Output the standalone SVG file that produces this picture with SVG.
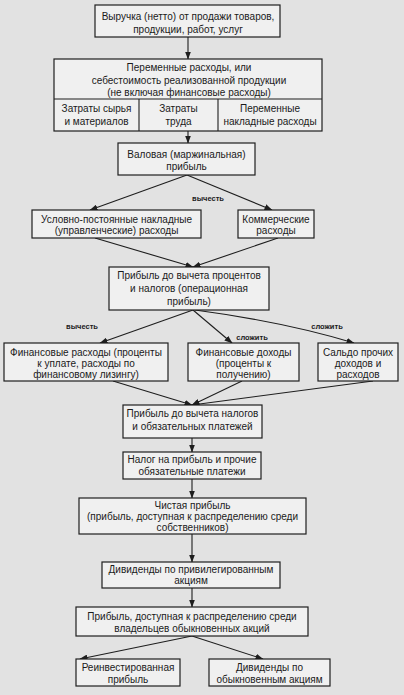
<svg xmlns="http://www.w3.org/2000/svg" width="404" height="695" viewBox="0 0 404 695">
<defs>
<style>
.bg{fill:#e2e2e2}
.box{fill:#f0f0f0;stroke:#1e1e1e;stroke-width:1.2}
.ln{fill:none;stroke:#1e1e1e;stroke-width:1.1}
text{font-family:"Liberation Sans",Arial,sans-serif;font-size:10px;fill:#1a1a1a;text-anchor:middle}
.lbl{font-size:7.5px;font-weight:bold}
</style>
<marker id="ah" markerWidth="8" markerHeight="6" refX="7.5" refY="3" orient="auto" markerUnits="userSpaceOnUse">
<path d="M0,0 L8,3 L0,6 Z" fill="#1e1e1e"/>
</marker>
</defs>
<rect class="bg" x="0" y="0" width="404" height="695"/>

<g id="connectors">
<line class="ln" x1="188" y1="37" x2="188" y2="59" marker-end="url(#ah)"/>
<line class="ln" x1="188" y1="131" x2="188" y2="143" marker-end="url(#ah)"/>
<line class="ln" x1="187" y1="175" x2="90" y2="210" marker-end="url(#ah)"/>
<line class="ln" x1="187" y1="175" x2="272" y2="210" marker-end="url(#ah)"/>
<line class="ln" x1="95" y1="238" x2="193" y2="267" marker-end="url(#ah)"/>
<line class="ln" x1="278" y1="238" x2="193" y2="267" marker-end="url(#ah)"/>
<line class="ln" x1="193" y1="310" x2="100" y2="343" marker-end="url(#ah)"/>
<line class="ln" x1="193" y1="310" x2="232" y2="343" marker-end="url(#ah)"/>
<path class="ln" d="M195,310 Q285,322 354,343" marker-end="url(#ah)"/>
<line class="ln" x1="113" y1="381" x2="192" y2="405" marker-end="url(#ah)"/>
<line class="ln" x1="242" y1="381" x2="192" y2="405" marker-end="url(#ah)"/>
<line class="ln" x1="373" y1="381" x2="192" y2="405" marker-end="url(#ah)"/>
<line class="ln" x1="192" y1="438" x2="192" y2="452" marker-end="url(#ah)"/>
<line class="ln" x1="192" y1="479" x2="192" y2="498" marker-end="url(#ah)"/>
<line class="ln" x1="192" y1="534" x2="192" y2="562" marker-end="url(#ah)"/>
<line class="ln" x1="192" y1="588" x2="192" y2="607" marker-end="url(#ah)"/>
<line class="ln" x1="192" y1="636" x2="80" y2="659" marker-end="url(#ah)"/>
<line class="ln" x1="192" y1="636" x2="263" y2="659" marker-end="url(#ah)"/>
<text class="lbl" x="208" y="201">вычесть</text>
<text class="lbl" x="82" y="329">вычесть</text>
<text class="lbl" x="252" y="340">сложить</text>
<text class="lbl" x="327" y="329">сложить</text>
</g>

<g id="n1">
<rect class="box" x="95" y="5" width="185" height="32"/>
<text x="188" y="20">Выручка (нетто) от продажи товаров,</text>
<text x="188" y="33">продукции, работ, услуг</text>
</g>

<g id="n2">
<rect class="box" x="54" y="59" width="268" height="72"/>
<line class="ln" x1="54" y1="99" x2="322" y2="99"/>
<line class="ln" x1="139" y1="99" x2="139" y2="131"/>
<line class="ln" x1="218" y1="99" x2="218" y2="131"/>
<text x="189" y="71">Переменные расходы, или</text>
<text x="189" y="83.5">себестоимость реализованной продукции</text>
<text x="189" y="95.5">(не включая финансовые расходы)</text>
<text x="96.5" y="112">Затраты сырья</text>
<text x="96.5" y="125">и материалов</text>
<text x="178.5" y="112">Затраты</text>
<text x="178.5" y="125">труда</text>
<text x="270" y="112">Переменные</text>
<text x="270" y="125">накладные расходы</text>
</g>

<g id="n3">
<rect class="box" x="118" y="143" width="137" height="32"/>
<text x="186.5" y="158">Валовая (маржинальная)</text>
<text x="186.5" y="170">прибыль</text>
</g>

<g id="n4">
<rect class="box" x="32" y="210" width="169" height="28"/>
<text x="116.5" y="223">Условно-постоянные накладные</text>
<text x="116.5" y="234">(управленческие) расходы</text>
</g>

<g id="n5">
<rect class="box" x="238" y="210" width="76" height="28"/>
<text x="276" y="223">Коммерческие</text>
<text x="276" y="234">расходы</text>
</g>

<g id="n6">
<rect class="box" x="109" y="267" width="160" height="43"/>
<text x="189" y="279">Прибыль до вычета процентов</text>
<text x="189" y="292">и налогов (операционная</text>
<text x="189" y="305">прибыль)</text>
</g>

<g id="n7">
<rect class="box" x="4" y="343" width="164" height="38"/>
<text x="86" y="356">Финансовые расходы (проценты</text>
<text x="86" y="367">к уплате, расходы по</text>
<text x="86" y="378">финансовому лизингу)</text>
</g>

<g id="n8">
<rect class="box" x="188" y="343" width="111" height="38"/>
<text x="243.5" y="356">Финансовые доходы</text>
<text x="243.5" y="367">(проценты к</text>
<text x="243.5" y="378">получению)</text>
</g>

<g id="n9">
<rect class="box" x="318" y="343" width="80" height="38"/>
<text x="358" y="356">Сальдо прочих</text>
<text x="358" y="367">доходов и</text>
<text x="358" y="378">расходов</text>
</g>

<g id="n10">
<rect class="box" x="123" y="405" width="139" height="33"/>
<text x="192.5" y="417">Прибыль до вычета налогов</text>
<text x="192.5" y="430">и обязательных платежей</text>
</g>

<g id="n11">
<rect class="box" x="123" y="452" width="138" height="27"/>
<text x="192" y="463">Налог на прибыль и прочие</text>
<text x="192" y="475">обязательные платежи</text>
</g>

<g id="n12">
<rect class="box" x="79" y="498" width="227" height="36"/>
<text x="192.5" y="509">Чистая прибыль</text>
<text x="192.5" y="520">(прибыль, доступная к распределению среди</text>
<text x="192.5" y="531">собственников)</text>
</g>

<g id="n13">
<rect class="box" x="102" y="562" width="178" height="26"/>
<text x="191" y="573">Дивиденды по привилегированным</text>
<text x="191" y="584">акциям</text>
</g>

<g id="n14">
<rect class="box" x="76" y="607" width="232" height="29"/>
<text x="192" y="620">Прибыль, доступная к распределению среди</text>
<text x="192" y="632">владельцев обыкновенных акций</text>
</g>

<g id="n15">
<rect class="box" x="76" y="659" width="104" height="27"/>
<text x="128" y="671">Реинвестированная</text>
<text x="128" y="683">прибыль</text>
</g>

<g id="n16">
<rect class="box" x="209" y="659" width="121" height="27"/>
<text x="269.5" y="671">Дивиденды по</text>
<text x="269.5" y="683">обыкновенным акциям</text>
</g>
</svg>
